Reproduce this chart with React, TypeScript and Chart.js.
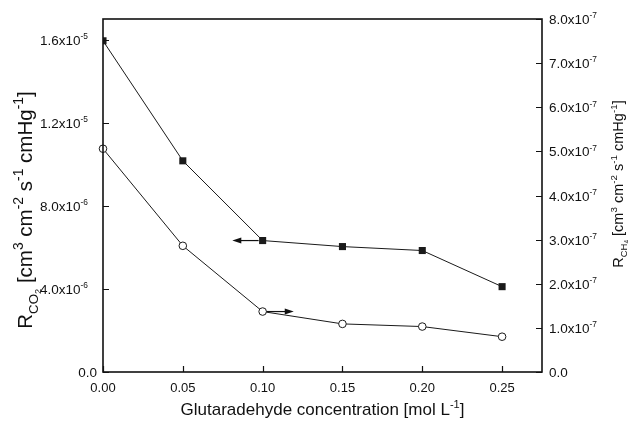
import React, { useEffect, useRef } from "react";
import { Chart, registerables } from "chart.js";

Chart.register(...registerables);

// ---- data ----
const concentrations = [0, 0.05, 0.1, 0.15, 0.2, 0.25];
const rCO2 = [1.595e-5, 1.017e-5, 6.33e-6, 6.04e-6, 5.85e-6, 4.11e-6];
const rCH4 = [5.06e-7, 2.86e-7, 1.37e-7, 1.09e-7, 1.03e-7, 0.8e-7];

const xTicks = [0, 0.05, 0.1, 0.15, 0.2, 0.25];
const xTickLabels = ["0.00", "0.05", "0.10", "0.15", "0.20", "0.25"];
const leftTicks = [0, 4e-6, 8e-6, 1.2e-5, 1.6e-5];
const leftTickLabels = ["0.0", "4.0x10^-6", "8.0x10^-6", "1.2x10^-5", "1.6x10^-5"];
const rightTicks = [0, 1e-7, 2e-7, 3e-7, 4e-7, 5e-7, 6e-7, 7e-7, 8e-7];
const rightTickLabels = [
  "0.0", "1.0x10^-7", "2.0x10^-7", "3.0x10^-7", "4.0x10^-7",
  "5.0x10^-7", "6.0x10^-7", "7.0x10^-7", "8.0x10^-7",
];
const xRange = [0, 0.275];
const leftRange = [0, 1.7e-5];
const rightRange = [0, 8e-7];

// arrows: start at point index, go to x value
const arrowCO2Index = 2;
const arrowCO2ToX = 0.081;
const arrowCH4Index = 2;
const arrowCH4ToX = 0.1195;

const FONT = '"Liberation Sans", Arial, Helvetica, sans-serif';

type Seg = { t: string; scale: number; dy: number };

const SUP = (t: string, sc = 0.62): Seg => ({ t, scale: sc, dy: -0.42 });
const N = (t: string): Seg => ({ t, scale: 1, dy: 0 });

const xTitle: Seg[] = [N("Glutaradehyde concentration [mol L"), SUP("-1", 0.65), N("]")];
const unitSegs: Seg[] = [
  N(" [cm"), SUP("3", 0.68), N(" cm"), SUP("-2", 0.68), N(" s"), SUP("-1", 0.68),
  N(" cmHg"), SUP("-1", 0.68), N("]"),
];
const leftTitle: Seg[] = [
  N("R"),
  { t: "CO", scale: 0.65, dy: 0.3 },
  { t: "2", scale: 0.45, dy: 0.42 },
  ...unitSegs,
];
const rightTitle: Seg[] = [
  N("R"),
  { t: "CH", scale: 0.65, dy: 0.3 },
  { t: "4", scale: 0.45, dy: 0.42 },
  ...unitSegs,
];

function parseLabel(s: string): Seg[] {
  const parts = s.split("^");
  const segs: Seg[] = [N(parts[0])];
  if (parts[1]) segs.push(SUP(parts[1]));
  return segs;
}

function drawRich(
  ctx: CanvasRenderingContext2D,
  segs: Seg[],
  x: number,
  y: number,
  align: "left" | "right" | "center",
  size: number
) {
  ctx.textAlign = "left";
  ctx.textBaseline = "alphabetic";
  let w = 0;
  for (const s of segs) {
    ctx.font = `${size * s.scale}px ${FONT}`;
    w += ctx.measureText(s.t).width;
  }
  let cx = align === "left" ? x : align === "right" ? x - w : x - w / 2;
  for (const s of segs) {
    ctx.font = `${size * s.scale}px ${FONT}`;
    ctx.fillText(s.t, cx, y + s.dy * size);
    cx += ctx.measureText(s.t).width;
  }
}

const decorPlugin = {
  id: "decor",
  afterDatasetsDraw(chart: any) {
    const ctx: CanvasRenderingContext2D = chart.ctx;
    const xs = chart.scales.x;
    const yl = chart.scales.yL;
    const yr = chart.scales.yR;
    ctx.save();
    ctx.strokeStyle = "#111";
    ctx.fillStyle = "#111";

    const drawArrow = (x0: number, y0: number, x1: number) => {
      const dir = x1 > x0 ? 1 : -1;
      ctx.lineWidth = 1.2;
      ctx.beginPath();
      ctx.moveTo(x0 + dir * 4, y0);
      ctx.lineTo(x1 - dir * 6, y0);
      ctx.stroke();
      ctx.beginPath();
      ctx.moveTo(x1, y0);
      ctx.lineTo(x1 - dir * 9, y0 - 3);
      ctx.lineTo(x1 - dir * 9, y0 + 3);
      ctx.closePath();
      ctx.fill();
    };
    drawArrow(
      xs.getPixelForValue(concentrations[arrowCO2Index]),
      yl.getPixelForValue(rCO2[arrowCO2Index]),
      xs.getPixelForValue(arrowCO2ToX)
    );
    drawArrow(
      xs.getPixelForValue(concentrations[arrowCH4Index]),
      yr.getPixelForValue(rCH4[arrowCH4Index]),
      xs.getPixelForValue(arrowCH4ToX)
    );
    ctx.restore();
  },
  afterDraw(chart: any) {
    const ctx: CanvasRenderingContext2D = chart.ctx;
    const { left, right, top, bottom } = chart.chartArea;
    const xs = chart.scales.x;
    const yl = chart.scales.yL;
    const yr = chart.scales.yR;
    ctx.save();
    ctx.strokeStyle = "#111";
    ctx.fillStyle = "#111";

    // frame
    ctx.lineWidth = 1.6;
    ctx.strokeRect(left, top, right - left, bottom - top);

    // ticks (inward)
    ctx.lineWidth = 1.2;
    const TL = 6;
    ctx.beginPath();
    xTicks.forEach((v) => {
      const px = Math.round(xs.getPixelForValue(v)) + 0.5;
      ctx.moveTo(px, bottom);
      ctx.lineTo(px, bottom - TL);
    });
    leftTicks.forEach((v) => {
      const py = Math.round(yl.getPixelForValue(v)) + 0.5;
      ctx.moveTo(left, py);
      ctx.lineTo(left + TL, py);
    });
    rightTicks.forEach((v) => {
      const py = Math.round(yr.getPixelForValue(v)) + 0.5;
      ctx.moveTo(right, py);
      ctx.lineTo(right - TL, py);
    });
    ctx.stroke();

    // tick labels
    const TS = 13.5;
    xTicks.forEach((v, i) => {
      drawRich(ctx, parseLabel(xTickLabels[i]), xs.getPixelForValue(v), bottom + 20, "center", 13);
    });
    leftTicks.forEach((v, i) => {
      const hasExp = leftTickLabels[i].includes("^");
      drawRich(
        ctx,
        parseLabel(leftTickLabels[i]),
        left - (hasExp ? 15 : 6),
        yl.getPixelForValue(v) + 5,
        "right",
        TS
      );
    });
    rightTicks.forEach((v, i) => {
      drawRich(ctx, parseLabel(rightTickLabels[i]), right + 7, yr.getPixelForValue(v) + 5, "left", TS);
    });

    // axis titles
    drawRich(ctx, xTitle, (left + right) / 2, 415, "center", 17);

    ctx.save();
    ctx.translate(32, 210);
    ctx.rotate(-Math.PI / 2);
    drawRich(ctx, leftTitle, 0, 0, "center", 20.5);
    ctx.restore();

    ctx.save();
    ctx.translate(623, 184);
    ctx.rotate(-Math.PI / 2);
    drawRich(ctx, rightTitle, 0, 0, "center", 14.5);
    ctx.restore();

    ctx.restore();
  },
};

export default function App() {
  const ref = useRef<HTMLCanvasElement | null>(null);
  useEffect(() => {
    if (!ref.current) return;
    const chart = new Chart(ref.current, {
      type: "line",
      data: {
        datasets: [
          {
            label: "R CO2",
            data: concentrations.map((x, i) => ({ x, y: rCO2[i] })),
            yAxisID: "yL",
            borderColor: "#1a1a1a",
            borderWidth: 1,
            pointStyle: "rect",
            pointRadius: 5,
            pointBackgroundColor: "#1a1a1a",
            pointBorderColor: "#1a1a1a",
            pointBorderWidth: 0,
            tension: 0,
          },
          {
            label: "R CH4",
            data: concentrations.map((x, i) => ({ x, y: rCH4[i] })),
            yAxisID: "yR",
            borderColor: "#1a1a1a",
            borderWidth: 1,
            pointStyle: "circle",
            pointRadius: 3.8,
            pointBackgroundColor: "#ffffff",
            pointBorderColor: "#1a1a1a",
            pointBorderWidth: 1,
            tension: 0,
            clip: false as any,
          },
        ],
      },
      options: {
        animation: false,
        responsive: false,
        maintainAspectRatio: false,
        layout: { padding: { top: 19, left: 0, right: 0, bottom: 0 } },
        plugins: { legend: { display: false }, tooltip: { enabled: false } },
        scales: {
          x: {
            type: "linear",
            min: xRange[0],
            max: xRange[1],
            grid: { display: false },
            border: { display: false },
            ticks: { display: false },
            afterFit: (s: any) => {
              s.height = 53;
            },
          },
          yL: {
            type: "linear",
            position: "left",
            min: leftRange[0],
            max: leftRange[1],
            grid: { display: false },
            border: { display: false },
            ticks: { display: false },
            afterFit: (s: any) => {
              s.width = 103;
            },
          },
          yR: {
            type: "linear",
            position: "right",
            min: rightRange[0],
            max: rightRange[1],
            grid: { display: false },
            border: { display: false },
            ticks: { display: false },
            afterFit: (s: any) => {
              s.width = 86;
            },
          },
        },
      },
      plugins: [decorPlugin],
    } as any);
    return () => chart.destroy();
  }, []);
  return (
    <div style={{ position: "absolute", left: 0, top: 0, width: 628, height: 425, background: "#fff" }}>
      <canvas ref={ref} width={628} height={425} style={{ width: 628, height: 425, display: "block" }} />
    </div>
  );
}
